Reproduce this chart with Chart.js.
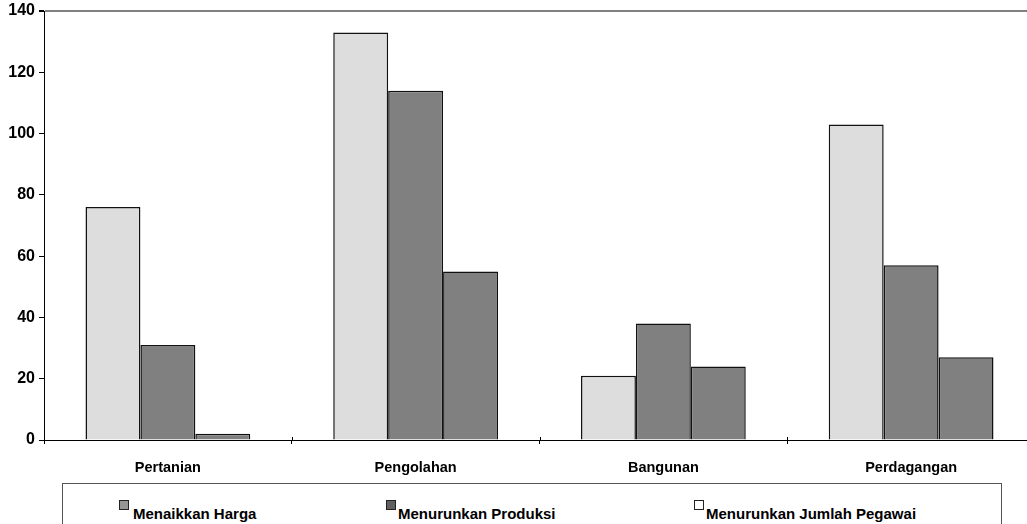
<!DOCTYPE html>
<html>
<head>
<meta charset="utf-8">
<script src="https://cdn.jsdelivr.net/npm/chart.js@4.4.1/dist/chart.umd.min.js"></script>
<style>
  html, body { margin: 0; padding: 0; background: #fff; overflow: hidden; width: 1027px; height: 524px; }
  #wrap { position: absolute; left: 0; top: 0; width: 1035px; height: 480px; }
  #legendBox {
    position: absolute; left: 62px; top: 483px; width: 940px; height: 60px;
    border: 1px solid #555; box-sizing: border-box; background: #fff;
  }
  .item {
    position: absolute; top: 0; white-space: nowrap;
    font: bold 15px "Liberation Sans", Arial, sans-serif; color: #000;
  }
  .item .sw {
    position: absolute; top: 16px; width: 8px; height: 8px; border: 1px solid #222;
  }
  .item .txt { position: absolute; top: 21px; }
</style>
</head>
<body>
<div id="wrap"><canvas id="chart"></canvas></div>
<div id="legendBox"></div>
<script>
// categories and series
const categories = ['Pertanian', 'Pengolahan', 'Bangunan', 'Perdagangan'];
const seriesNames = ['Menaikkan Harga', 'Menurunkan Produksi', 'Menurunkan Jumlah Pegawai'];
const hargaValues = [76, 133, 21, 103];
const produksiValues = [31, 114, 38, 57];
const pegawaiValues = [2, 55, 24, 27];
const yTicks = [0, 20, 40, 60, 80, 100, 120, 140];

// colours as drawn (bars and legend swatches differ in the original)
const barColors = ['#dddddd', '#808080', '#808080'];
const swatchColors = ['#969696', '#606060', '#ffffff'];

// legend layout (left of swatch, left of text)
const legendSlots = [[56, 70], [323, 335], [631, 643]];

const seriesValues = [hargaValues, produksiValues, pegawaiValues];
const FONT = "'Liberation Sans', Arial, sans-serif";

const datasets = seriesNames.map((name, i) => ({
    label: name,
    data: seriesValues[i],
    backgroundColor: barColors[i],
    borderColor: '#111',
    borderWidth: 1.5,
    categoryPercentage: 0.665,
    barPercentage: 1.0
}));

// small plugin: x ticks in the original cross the axis line
const crossTicks = {
    id: 'crossTicks',
    afterDraw(chart) {
        const x = chart.scales.x;
        const ctx = chart.ctx;
        const bottom = chart.chartArea.bottom;
        ctx.save();
        ctx.strokeStyle = '#000';
        ctx.lineWidth = 1;
        for (let i = 0; i <= categories.length; i++) {
            const px = Math.round(x.getPixelForValue(i - 0.5)) + 0.5;
            ctx.beginPath();
            ctx.moveTo(px, bottom - 3);
            ctx.lineTo(px, bottom);
            ctx.stroke();
        }
        ctx.restore();
    }
};

new Chart(document.getElementById('chart'), {
    type: 'bar',
    data: { labels: categories, datasets: datasets },
    plugins: [crossTicks],
    options: {
        responsive: true,
        maintainAspectRatio: false,
        animation: false,
        layout: { padding: { top: 11, left: 0, right: 0, bottom: 0 } },
        plugins: { legend: { display: false }, tooltip: { enabled: false } },
        scales: {
            x: {
                offset: true,
                grid: { drawOnChartArea: false, color: '#000', tickColor: '#000', tickLength: 4, offset: true },
                border: { color: '#000', width: 1 },
                ticks: { color: '#000', font: { family: FONT, size: 14.5, weight: 'bold' }, padding: 15, maxRotation: 0 },
                afterFit: (scale) => { scale.height = 40; }
            },
            y: {
                min: 0,
                max: 140,
                afterBuildTicks: (scale) => { scale.ticks = yTicks.map(v => ({ value: v })); },
                grid: {
                    color: (ctx) => (ctx.tick && ctx.tick.value === 140) ? '#808080' : 'rgba(0,0,0,0)',
                    lineWidth: (ctx) => (ctx.tick && ctx.tick.value === 140) ? 2 : 1,
                    tickColor: '#000',
                    tickLength: 5
                },
                border: { color: '#000', width: 1 },
                ticks: { color: '#000', font: { family: FONT, size: 16, weight: 'bold' }, padding: 4 },
                afterFit: (scale) => {
                    scale.width = 44;
                    scale.paddingTop = 0;
                    scale.paddingBottom = 0;
                }
            }
        }
    }
});

// legend built from the series names
const box = document.getElementById('legendBox');
seriesNames.forEach((name, i) => {
    const item = document.createElement('div');
    item.className = 'item';
    item.style.left = '0px';
    const sw = document.createElement('span');
    sw.className = 'sw';
    sw.style.left = legendSlots[i][0] + 'px';
    sw.style.background = swatchColors[i];
    const txt = document.createElement('span');
    txt.className = 'txt';
    txt.style.left = legendSlots[i][1] + 'px';
    txt.textContent = name;
    item.appendChild(sw);
    item.appendChild(txt);
    box.appendChild(item);
});
</script>
</body>
</html>
